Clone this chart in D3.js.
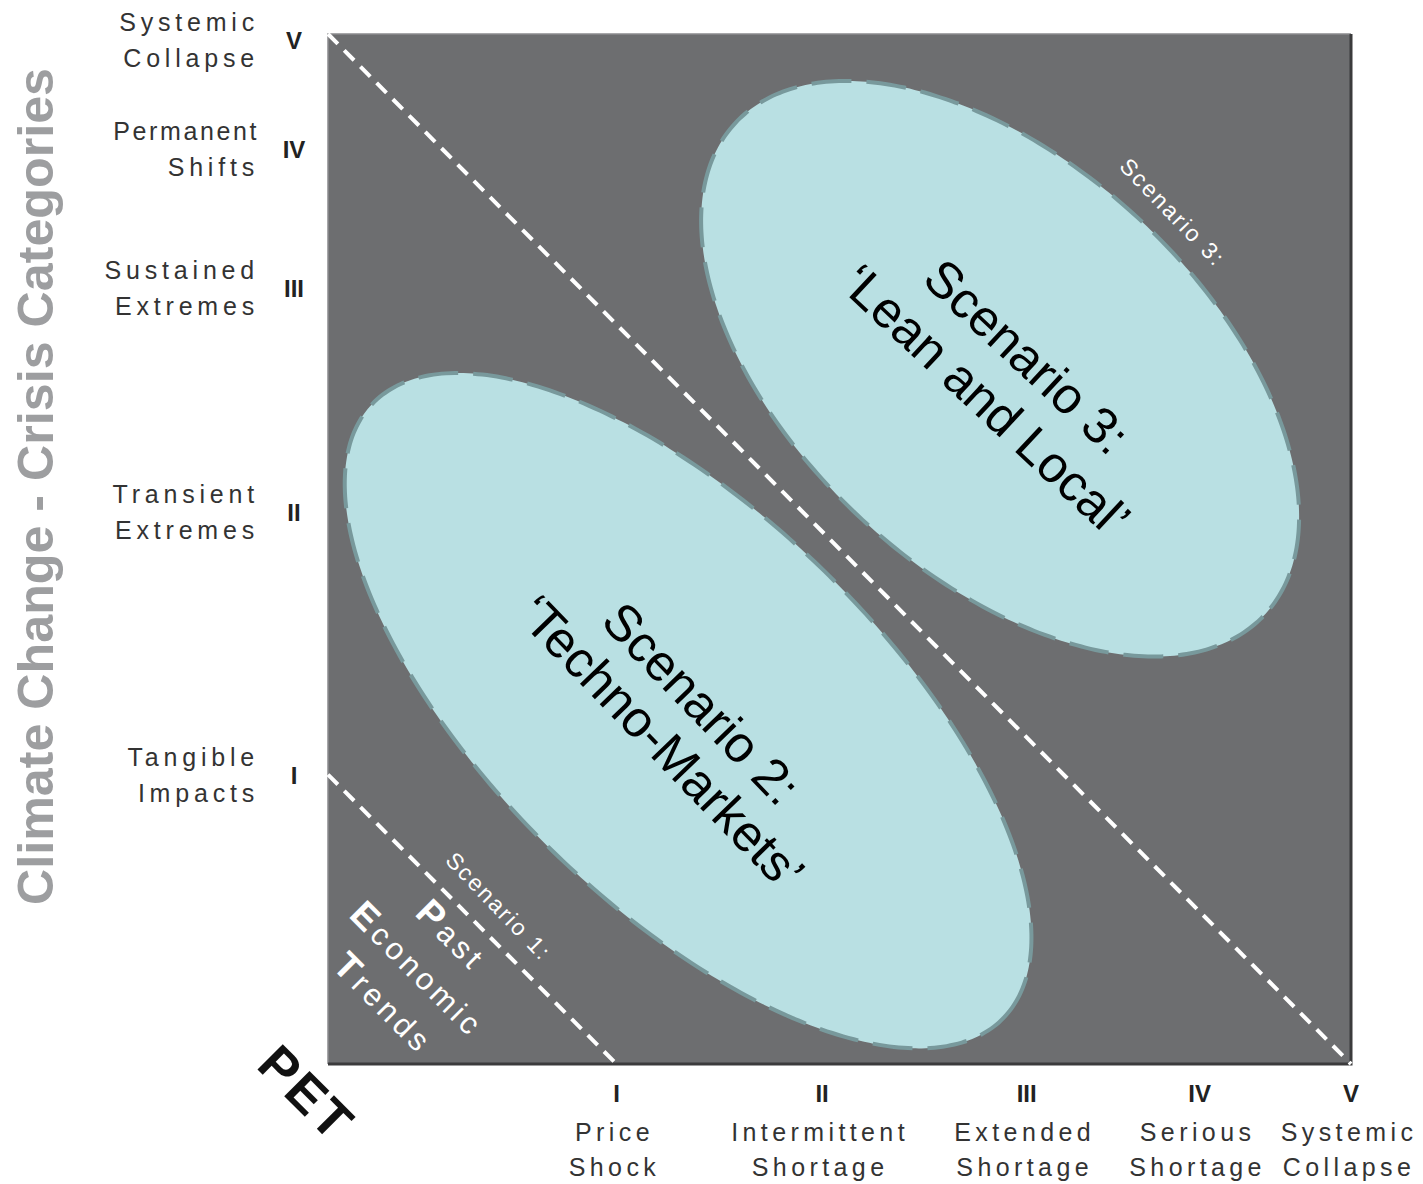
<!DOCTYPE html>
<html><head><meta charset="utf-8">
<script src="https://cdn.jsdelivr.net/npm/d3@7"></script>
<style>
body{margin:0;background:#fff}
svg{display:block}
text{font-family:"Liberation Sans",Arial,Helvetica,sans-serif}
</style>
</head><body>
<svg id="chart" width="1423" height="1184"></svg>
<script>
// ---- data ----
const levels = ["I", "II", "III", "IV", "V"];
const petValues = [28.2, 48.3, 68.3, 85.2, 100];
const petLabels = [["Price", "Shock"], ["Intermittent", "Shortage"], ["Extended", "Shortage"], ["Serious", "Shortage"], ["Systemic", "Collapse"]];
const climateValues = [28.1, 53.6, 75.3, 88.8, 99.4];
const climateLabels = [["Tangible", "Impacts"], ["Transient", "Extremes"], ["Sustained", "Extremes"], ["Permanent", "Shifts"], ["Systemic", "Collapse"]];
const scenarioNames = ["Scenario 2:", "Scenario 3:"];
const scenarioTitles = ["\u2018Techno-Markets\u2019", "\u2018Lean and Local\u2019"];
const ellipseCx = [35.2, 65.7];
const ellipseCy = [34.3, 67.5];
const ellipseA = [42.9, 35.2];
const ellipseB = [19.0, 19.9];
const ellipseAngle = [44, 42.5];
const yTitle = "Climate Change - Crisis Categories";
const xTitle = "PET";
const scenario1Words = ["Past", "Economic", "Trends"];

// ---- layout ----
const svg = d3.select("#chart");
const plot = {left: 328, right: 1351, top: 34, bottom: 1064};
const x = d3.scaleLinear().domain([0, 100]).range([plot.left, plot.right]);
const y = d3.scaleLinear().domain([0, 100]).range([plot.bottom, plot.top]);

// plot background
svg.append("rect")
  .attr("x", x(0)).attr("y", y(100))
  .attr("width", x(100) - x(0)).attr("height", y(0) - y(100))
  .attr("fill", "#6d6e70");
// bevel borders
svg.append("path").attr("d", `M${x(0)},${y(0)}V${y(100)}H${x(100)}`)
  .attr("fill", "none").attr("stroke", "#8a8b8d").attr("stroke-width", 1.5);
svg.append("path").attr("d", `M${x(100)},${y(100)}V${y(0)}H${x(0)}`)
  .attr("fill", "none").attr("stroke", "#3b3b3c").attr("stroke-width", 3);

// diagonal dashed boundaries
const boundaries = [
  [[0, climateValues[0]], [petValues[0], 0]],
  [[0, 100], [100, 0]]
];
const line = d3.line().x(d => x(d[0])).y(d => y(d[1]));
svg.selectAll("path.boundary").data(boundaries).join("path")
  .attr("class", "boundary")
  .attr("d", line)
  .attr("fill", "none").attr("stroke", "#ffffff")
  .attr("stroke-width", 4).attr("stroke-dasharray", "14 9");

// ellipses
const ellipses = ellipseCx.map((cx, i) => ({cx, cy: ellipseCy[i], a: ellipseA[i], b: ellipseB[i], ang: ellipseAngle[i]}));
function ellipsePoints(e) {
  const th = e.ang * Math.PI / 180;
  const ux = Math.cos(th), uy = -Math.sin(th);
  const vx = Math.sin(th), vy = Math.cos(th);
  return d3.range(0, 360, 2).map(deg => {
    const t = deg * Math.PI / 180;
    return [e.cx + e.a * Math.cos(t) * ux + e.b * Math.sin(t) * vx,
            e.cy + e.a * Math.cos(t) * uy + e.b * Math.sin(t) * vy];
  });
}
const closedLine = d3.line().x(d => x(d[0])).y(d => y(d[1])).curve(d3.curveCardinalClosed);
svg.selectAll("path.ellipse").data(ellipses).join("path")
  .attr("class", "ellipse")
  .attr("d", d => closedLine(ellipsePoints(d)))
  .attr("fill", "#b9e0e3")
  .attr("stroke", "#78999c").attr("stroke-width", 4)
  .attr("stroke-dasharray", "40 15");

// scenario labels inside ellipses
const labelCfg = [{dx: -6.5, dy: 12, rot: 46, gap: 28}, {dx: 6.5, dy: 9.5, rot: 43, gap: 30}];
ellipses.forEach((e, i) => {
  const c = labelCfg[i];
  const g = svg.append("g")
    .attr("transform", `translate(${x(e.cx) + c.dx},${y(e.cy) + c.dy}) rotate(${c.rot})`);
  [scenarioNames[i], scenarioTitles[i]].forEach((t, j) => {
    g.append("text")
      .attr("x", 0).attr("y", (j === 0 ? -c.gap : c.gap) + 18)
      .attr("text-anchor", "middle")
      .attr("font-size", 51).attr("fill", "#000")
      .text(t);
  });
});

// small scenario boundary labels
svg.append("text")
  .attr("transform", "translate(1167,218) rotate(46)")
  .attr("text-anchor", "middle").attr("font-size", 23)
  .attr("letter-spacing", 2.2).attr("fill", "#ffffff")
  .text("Scenario 3:");
svg.append("text")
  .attr("transform", "translate(493,912) rotate(46)")
  .attr("text-anchor", "middle").attr("font-size", 23)
  .attr("letter-spacing", 2.2).attr("fill", "#ffffff")
  .text("Scenario 1:");

// Past Economic Trends
const pet1 = svg.append("g").attr("transform", "translate(417,970) rotate(45)");
scenario1Words.forEach((w, j) => {
  const t = pet1.append("text")
    .attr("x", 0).attr("y", (j - 1) * 48 + 11)
    .attr("text-anchor", "middle").attr("fill", "#ffffff")
    .attr("font-size", 31).attr("letter-spacing", 4.2);
  t.append("tspan").attr("font-weight", "bold").attr("font-size", 37).text(w[0]);
  t.append("tspan").text(w.slice(1));
});

// x axis (PET) tick numerals and labels
const xg = svg.append("g");
levels.forEach((lv, i) => {
  xg.append("text")
    .attr("x", x(petValues[i])).attr("y", 1102)
    .attr("text-anchor", "middle").attr("font-size", 24).attr("font-weight", "bold")
    .attr("fill", "#222").text(lv);
  petLabels[i].forEach((s, j) => {
    xg.append("text")
      .attr("x", x(petValues[i]) - 2).attr("y", 1141 + j * 35)
      .attr("text-anchor", "middle").attr("font-size", 25)
      .attr("letter-spacing", 4.4).attr("fill", "#333").text(s);
  });
});

// y axis (climate) tick numerals and labels
const yg = svg.append("g");
levels.forEach((lv, i) => {
  yg.append("text")
    .attr("x", 294).attr("y", y(climateValues[i]) + 9)
    .attr("text-anchor", "middle").attr("font-size", 24).attr("font-weight", "bold")
    .attr("fill", "#222").text(lv);
  climateLabels[i].forEach((s, j) => {
    yg.append("text")
      .attr("x", 259).attr("y", y(climateValues[i]) + (j === 0 ? -18 : 18) + 9)
      .attr("text-anchor", "end").attr("font-size", 25)
      .attr("letter-spacing", s === "Permanent" ? 2.6 : 4.8).attr("fill", "#333").text(s);
  });
});

// axis titles
svg.append("text")
  .attr("transform", "translate(53,486.5) rotate(-90)")
  .attr("text-anchor", "middle").attr("font-size", 50).attr("font-weight", "bold")
  .attr("fill", "#9d9ea0")
  .attr("textLength", 837).attr("lengthAdjust", "spacingAndGlyphs")
  .text(yTitle);
svg.append("text")
  .attr("transform", "translate(294,1106) rotate(45)")
  .attr("text-anchor", "middle").attr("font-size", 52).attr("font-weight", "bold")
  .attr("letter-spacing", 3).attr("fill", "#111")
  .text(xTitle);
</script>
</body></html>
